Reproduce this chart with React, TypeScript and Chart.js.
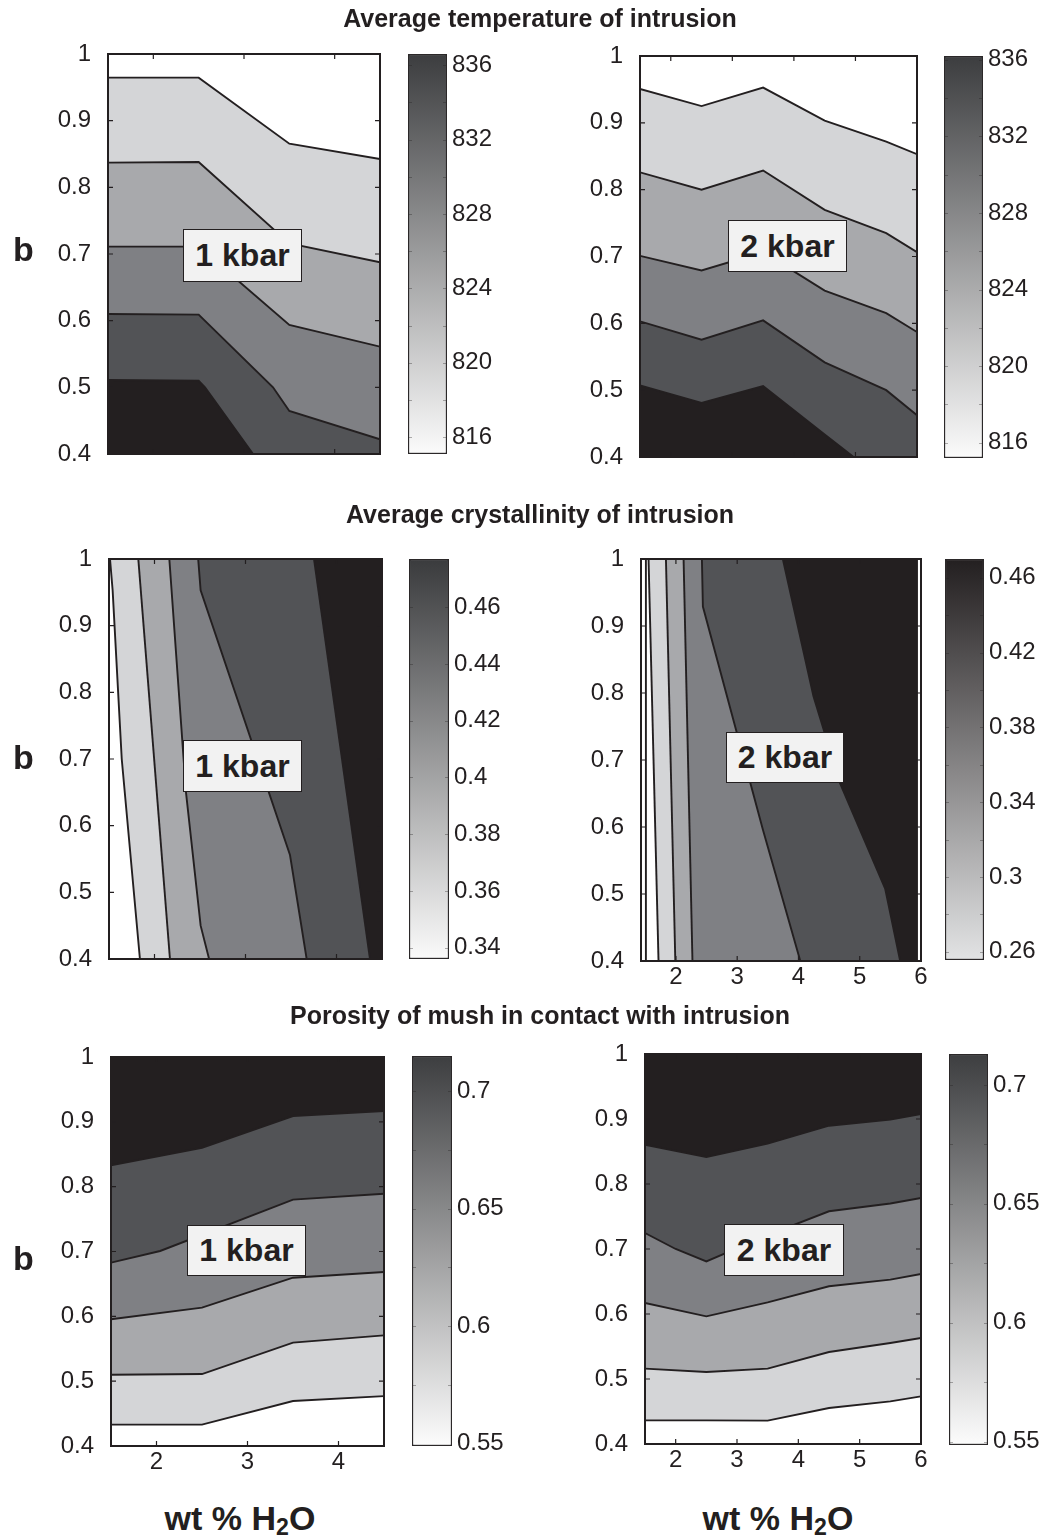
import React, { useEffect, useRef } from 'react';
import { Chart, registerables } from 'chart.js';

Chart.register(...registerables);

const INK = '#231f20';
const FONT = "'Liberation Sans', Arial, Helvetica, sans-serif";
Chart.defaults.font.family = FONT;
Chart.defaults.color = INK;

// ---------------- data ----------------
const B_MIN = 0.4;
const B_MAX = 1.0;
const bTicks = [0.4, 0.5, 0.6, 0.7, 0.8, 0.9, 1];
const waterTicks1kbar = [2, 3, 4];
const waterTicks2kbar = [2, 3, 4, 5, 6];

// contour lines as [wt% H2O, b] points
// temperature, 1 kbar (bottom -> top)
const tempLines1kbar = [
  [[1.5, 0.511], [2.5, 0.51], [2.57, 0.5], [3.1, 0.4]],
  [[1.5, 0.61], [2.5, 0.609], [3.32, 0.5], [3.5, 0.4645], [4.5, 0.422]],
  [[1.5, 0.711], [2.5, 0.711], [3.5, 0.5935], [4.5, 0.561]],
  [[1.5, 0.837], [2.5, 0.838], [3.5, 0.716], [4.5, 0.6875]],
  [[1.5, 0.9645], [2.5, 0.9645], [3.5, 0.8655], [4.5, 0.8425]],
];
// temperature, 2 kbar (bottom -> top)
const tempLines2kbar = [
  [[1.5, 0.507], [2.5, 0.481], [3.5, 0.506], [4.5, 0.4335], [4.97, 0.4]],
  [[1.5, 0.603], [2.5, 0.5755], [3.5, 0.6044], [4.5, 0.5416], [5.5, 0.5], [6, 0.4624]],
  [[1.5, 0.701], [2.5, 0.679], [3.5, 0.7065], [4.5, 0.649], [5.5, 0.6153], [6, 0.587]],
  [[1.5, 0.826], [2.5, 0.8], [3.5, 0.8286], [4.5, 0.7698], [5.5, 0.735], [6, 0.7065]],
  [[1.5, 0.9507], [2.5, 0.925], [3.5, 0.9527], [4.5, 0.9033], [5.5, 0.872], [6, 0.853]],
];
// crystallinity, 1 kbar (left -> right, each top -> bottom)
const crystLines1kbar = [
  [[1.511, 1], [1.54, 0.953], [1.64, 0.7], [1.84, 0.4]],
  [[1.822, 1], [2.17, 0.4]],
  [[2.163, 1], [2.346, 0.65], [2.507, 0.45], [2.6, 0.4]],
  [[2.48, 1], [2.507, 0.953], [3.489, 0.556], [3.672, 0.4]],
  [[3.753, 1], [4.368, 0.4]],
];
// crystallinity, 2 kbar (left -> right, each top -> bottom)
const crystLines2kbar = [
  [[1.51, 1], [1.51, 0.4]],
  [[1.553, 1], [1.716, 0.4]],
  [[1.837, 1], [1.99, 0.4]],
  [[2.125, 1], [2.27, 0.4]],
  [[2.424, 1], [2.44, 0.929], [3.42, 0.596], [4.03, 0.4]],
  [[3.745, 1], [4.245, 0.795], [4.68, 0.665], [5.415, 0.508], [5.66, 0.4]],
];
// porosity, 1 kbar (bottom -> top)
const poroLines1kbar = [
  [[1.5, 0.433], [2.5, 0.433], [3.5, 0.4694], [4.5, 0.477]],
  [[1.5, 0.51], [2.5, 0.511], [3.5, 0.5594], [4.5, 0.5707]],
  [[1.5, 0.5954], [2.5, 0.6134], [3.5, 0.6596], [4.5, 0.6684]],
  [[1.5, 0.6828], [2.04, 0.7008], [3.5, 0.78], [4.5, 0.789]],
  [[1.5, 0.833], [2.5, 0.86], [3.5, 0.909], [4.5, 0.9167]],
];
// porosity, 2 kbar (bottom -> top)
const poroLines2kbar = [
  [[1.5, 0.4364], [2.5, 0.4364], [3.5, 0.4359], [4.5, 0.4554], [5.5, 0.4656], [6, 0.4733]],
  [[1.5, 0.5159], [2.5, 0.5108], [3.5, 0.5159], [4.5, 0.5415], [5.5, 0.5554], [6, 0.563]],
  [[1.5, 0.6169], [2.5, 0.5964], [3.5, 0.6179], [4.5, 0.6426], [5.5, 0.6528], [6, 0.6615]],
  [[1.5, 0.7246], [2.0, 0.7], [2.5, 0.681], [3.5, 0.7215], [4.5, 0.758], [5.5, 0.77], [6, 0.7785]],
  [[1.5, 0.8605], [2.5, 0.8415], [3.5, 0.862], [4.5, 0.8897], [5.5, 0.899], [6, 0.9077]],
];

// colorbar tick labels and marks
const tempLabels = [816, 820, 824, 828, 832, 836];
const tempMarks = [816, 818, 820, 822, 824, 826, 828, 830, 832, 834, 836];
const crystLabels1kbar = [0.34, 0.36, 0.38, 0.4, 0.42, 0.44, 0.46];
const crystLabels2kbar = [0.26, 0.3, 0.34, 0.38, 0.42, 0.46];
const crystMarks2kbar = [0.26, 0.28, 0.3, 0.32, 0.34, 0.36, 0.38, 0.4, 0.42, 0.44, 0.46];
const poroLabels = [0.55, 0.6, 0.65, 0.7];
const poroMarks = [0.55, 0.575, 0.6, 0.625, 0.65, 0.675, 0.7];

// ---------------- styles ----------------
const G0 = '#231f20';
const G1 = '#525356';
const G2 = '#7f8084';
const G3 = '#a8a9ac';
const G4 = '#d4d5d7';
const G5 = '#ffffff';

const TICK_FONT = 24;
const PAD_L = 100;
const PAD_R = 20;
const PAD_T = 36;
const PAD_B = 50;

type Spec = {
  box: number[];
  xMin: number;
  xMax: number;
  dataXMax: number;
  xTicks: number[];
  showX: boolean;
  lines: number[][][];
  shades: string[];
  bgShade: string;
  mode: 'down' | 'left';
};

const panels: Spec[] = [
  { box: [108, 54, 380, 454], xMin: 1.5, xMax: 4.5, dataXMax: 4.5, xTicks: waterTicks1kbar, showX: false,
    lines: tempLines1kbar, shades: [G0, G1, G2, G3, G4], bgShade: G5, mode: 'down' },
  { box: [640, 56, 917, 457], xMin: 1.5, xMax: 6, dataXMax: 6, xTicks: waterTicks2kbar, showX: false,
    lines: tempLines2kbar, shades: [G0, G1, G2, G3, G4], bgShade: G5, mode: 'down' },
  { box: [109, 559, 382, 959], xMin: 1.5, xMax: 4.5, dataXMax: 4.5, xTicks: waterTicks1kbar, showX: false,
    lines: crystLines1kbar, shades: [G5, G4, G3, G2, G1], bgShade: G0, mode: 'left' },
  { box: [641, 559, 921, 961], xMin: 1.43, xMax: 6, dataXMax: 5.95, xTicks: waterTicks2kbar, showX: true,
    lines: crystLines2kbar, shades: [G5, G5, G4, G3, G2, G1], bgShade: G0, mode: 'left' },
  { box: [111, 1057, 384, 1446], xMin: 1.5, xMax: 4.5, dataXMax: 4.5, xTicks: waterTicks1kbar, showX: true,
    lines: poroLines1kbar, shades: [G5, G4, G3, G2, G1], bgShade: G0, mode: 'down' },
  { box: [645, 1054, 921, 1444], xMin: 1.5, xMax: 6, dataXMax: 6, xTicks: waterTicks2kbar, showX: true,
    lines: poroLines2kbar, shades: [G5, G4, G3, G2, G1], bgShade: G0, mode: 'down' },
];

type CbSpec = { box: number[]; min: number; max: number; labels: number[]; marks: number[]; top: string; bottom: string };

const colorbars: CbSpec[] = [
  { box: [408, 54, 447, 454], min: 815.1, max: 836.6, labels: tempLabels, marks: tempMarks, top: '#3c3d3f', bottom: '#fbfbfb' },
  { box: [944, 56, 983, 458], min: 815.2, max: 836.2, labels: tempLabels, marks: tempMarks, top: '#3c3d3f', bottom: '#fbfbfb' },
  { box: [409, 559, 449, 959], min: 0.336, max: 0.477, labels: crystLabels1kbar, marks: crystLabels1kbar, top: '#3a3b3d', bottom: '#fafafa' },
  { box: [945, 559, 984, 960], min: 0.2556, max: 0.47, labels: crystLabels2kbar, marks: crystMarks2kbar, top: '#231f20', bottom: '#e2e3e4' },
  { box: [412, 1056, 452, 1446], min: 0.549, max: 0.715, labels: poroLabels, marks: poroMarks, top: '#3d3e40', bottom: '#fcfcfc' },
  { box: [949, 1054, 988, 1445], min: 0.5486, max: 0.713, labels: poroLabels, marks: poroMarks, top: '#3d3e40', bottom: '#fcfcfc' },
];

const kbarBoxes = [
  { text: '1 kbar', l: 183, t: 229, w: 119, h: 53 },
  { text: '2 kbar', l: 728, t: 220, w: 119, h: 52 },
  { text: '1 kbar', l: 183, t: 740, w: 119, h: 52 },
  { text: '2 kbar', l: 726, t: 732, w: 118, h: 51 },
  { text: '1 kbar', l: 187, t: 1225, w: 119, h: 51 },
  { text: '2 kbar', l: 724, t: 1224, w: 120, h: 52 },
];

const titles = [
  { text: 'Average temperature of intrusion', baseline: 27 },
  { text: 'Average crystallinity of intrusion', baseline: 523 },
  { text: 'Porosity of mush in contact with intrusion', baseline: 1024 },
];

const bLabels = [261, 769, 1270];

// ---------------- helpers ----------------
const toXY = (pts: number[][]) => pts.map(([x, y]) => ({ x, y }));

function regionPolygons(spec: Spec) {
  const polys = spec.lines.map((ln, i) => {
    const first = ln[0];
    const last = ln[ln.length - 1];
    const pts =
      spec.mode === 'down'
        ? [...ln, [last[0], B_MIN], [first[0], B_MIN]]
        : [...ln, [spec.xMin, last[1]], [spec.xMin, first[1]]];
    return { pts, color: spec.shades[i] };
  });
  polys.push({
    pts: [[spec.xMin, B_MIN], [spec.dataXMax, B_MIN], [spec.dataXMax, B_MAX], [spec.xMin, B_MAX]],
    color: spec.bgShade,
  });
  return polys;
}

function framePlugin(xTicks: number[], yTicks: number[]) {
  return {
    id: 'frame',
    afterDraw(chart: any) {
      const { ctx, chartArea: a, scales } = chart;
      ctx.save();
      ctx.strokeStyle = INK;
      ctx.lineWidth = 1.2;
      ctx.beginPath();
      const L = 5;
      for (const v of xTicks) {
        const px = scales.x.getPixelForValue(v);
        if (px <= a.left + 1 || px >= a.right - 1) continue;
        ctx.moveTo(px, a.bottom);
        ctx.lineTo(px, a.bottom - L);
        ctx.moveTo(px, a.top);
        ctx.lineTo(px, a.top + L);
      }
      for (const v of yTicks) {
        const py = scales.y.getPixelForValue(v);
        if (py <= a.top + 1 || py >= a.bottom - 1) continue;
        ctx.moveTo(a.left, py);
        ctx.lineTo(a.left + L, py);
        ctx.moveTo(a.right, py);
        ctx.lineTo(a.right - L, py);
      }
      ctx.stroke();
      ctx.lineWidth = 2;
      ctx.strokeRect(a.left, a.top, a.right - a.left, a.bottom - a.top);
      ctx.restore();
    },
  };
}

function ContourPanel({ spec }: { spec: Spec }) {
  const ref = useRef<HTMLCanvasElement>(null);
  const [l, t, r, b] = spec.box;
  const W = r - l + PAD_L + PAD_R;
  const H = b - t + PAD_T + PAD_B;
  useEffect(() => {
    if (!ref.current) return;
    const polys = regionPolygons(spec);
    const datasets: any[] = [
      ...spec.lines.map((ln) => ({
        data: toXY(ln),
        borderColor: INK,
        borderWidth: 1.9,
        pointRadius: 0,
        fill: false,
        tension: 0,
      })),
      ...polys.map((p) => ({
        data: toXY(p.pts),
        backgroundColor: p.color,
        borderColor: 'rgba(0,0,0,0)',
        borderWidth: 1,
        pointRadius: 0,
        fill: 'shape',
        tension: 0,
      })),
    ];
    const chart = new Chart(ref.current, {
      type: 'line',
      data: { datasets },
      options: {
        responsive: false,
        animation: false,
        devicePixelRatio: 1,
        events: [],
        layout: { padding: { top: PAD_T, right: PAD_R, left: 0, bottom: 0 } },
        plugins: { legend: { display: false }, tooltip: { enabled: false } },
        scales: {
          x: {
            type: 'linear',
            min: spec.xMin,
            max: spec.xMax,
            grid: { display: false, drawTicks: false },
            border: { display: false },
            afterBuildTicks: (s: any) => {
              s.ticks = spec.xTicks.map((v) => ({ value: v }));
            },
            afterFit: (s: any) => {
              s.height = PAD_B;
            },
            ticks: {
              display: spec.showX,
              padding: 2,
              autoSkip: false,
              maxRotation: 0,
              color: INK,
              font: { size: TICK_FONT, family: FONT },
              callback: (v: any) => String(v),
            },
          },
          y: {
            type: 'linear',
            min: B_MIN,
            max: B_MAX,
            grid: { display: false, drawTicks: false },
            border: { display: false },
            afterBuildTicks: (s: any) => {
              s.ticks = bTicks.map((v) => ({ value: v }));
            },
            afterFit: (s: any) => {
              s.width = PAD_L;
            },
            ticks: {
              padding: 17,
              autoSkip: false,
              color: INK,
              font: { size: TICK_FONT, family: FONT },
              callback: (v: any) => String(v),
            },
          },
        },
      } as any,
      plugins: [framePlugin(spec.xTicks, bTicks)],
    });
    return () => chart.destroy();
  }, []);
  return (
    <canvas
      ref={ref}
      width={W}
      height={H}
      style={{ position: 'absolute', left: l - PAD_L, top: t - PAD_T, width: W, height: H }}
    />
  );
}

const CB_PAD_T = 24;
const CB_PAD_B = 24;
const CB_AXIS_W = 80;

function Colorbar({ cb }: { cb: CbSpec }) {
  const ref = useRef<HTMLCanvasElement>(null);
  const [l, t, r, b] = cb.box;
  const W = r - l + CB_AXIS_W;
  const H = b - t + CB_PAD_T + CB_PAD_B;
  useEffect(() => {
    if (!ref.current) return;
    const marksPlugin = {
      id: 'cbmarks',
      afterDatasetsDraw(chart: any) {
        const { ctx, chartArea: a, scales } = chart;
        ctx.save();
        ctx.strokeStyle = 'rgba(35,31,32,0.35)';
        ctx.lineWidth = 1;
        ctx.beginPath();
        for (const v of cb.marks) {
          const py = Math.round(scales.y.getPixelForValue(v)) + 0.5;
          if (py <= a.top + 2 || py >= a.bottom - 2) continue;
          ctx.moveTo(a.left + 1, py);
          ctx.lineTo(a.left + 4, py);
          ctx.moveTo(a.right - 1, py);
          ctx.lineTo(a.right - 4, py);
        }
        ctx.stroke();
        ctx.restore();
      },
    };
    const chart = new Chart(ref.current, {
      type: 'bar',
      data: {
        labels: ['c'],
        datasets: [
          {
            data: [[cb.min, cb.max]] as any,
            backgroundColor: (c: any) => {
              const ch = c.chart;
              const a = ch.chartArea;
              if (!a) return cb.bottom;
              const g = ch.ctx.createLinearGradient(0, a.bottom, 0, a.top);
              g.addColorStop(0, cb.bottom);
              g.addColorStop(1, cb.top);
              return g;
            },
            borderColor: '#2b2829',
            borderWidth: 1.5,
            borderSkipped: false,
            barPercentage: 1,
            categoryPercentage: 1,
          },
        ],
      },
      options: {
        responsive: false,
        animation: false,
        devicePixelRatio: 1,
        events: [],
        layout: { padding: { top: CB_PAD_T, bottom: CB_PAD_B, left: 0, right: 0 } },
        plugins: { legend: { display: false }, tooltip: { enabled: false } },
        scales: {
          x: { display: false },
          y: {
            position: 'right',
            min: cb.min,
            max: cb.max,
            grid: { display: false, drawTicks: false },
            border: { display: false },
            afterBuildTicks: (s: any) => {
              s.ticks = cb.labels.map((v) => ({ value: v }));
            },
            afterFit: (s: any) => {
              s.width = CB_AXIS_W;
            },
            ticks: {
              padding: 5,
              autoSkip: false,
              color: INK,
              font: { size: TICK_FONT, family: FONT },
              callback: (v: any) => String(v),
            },
          },
        },
      } as any,
      plugins: [marksPlugin],
    });
    return () => chart.destroy();
  }, []);
  return (
    <canvas
      ref={ref}
      width={W}
      height={H}
      style={{ position: 'absolute', left: l, top: t - CB_PAD_T, width: W, height: H }}
    />
  );
}

function TextAt({ x, baseline, size, align, children }: any) {
  const top = baseline - 0.8465 * size;
  const style: any = {
    position: 'absolute',
    top,
    fontSize: size,
    lineHeight: `${size}px`,
    fontWeight: 'bold',
    fontFamily: FONT,
    color: INK,
    whiteSpace: 'nowrap',
  };
  if (align === 'center') {
    style.left = x - 400;
    style.width = 800;
    style.textAlign = 'center';
  } else {
    style.left = x;
  }
  return <div style={style}>{children}</div>;
}

export default function App() {
  return (
    <div
      style={{
        position: 'absolute',
        left: 0,
        top: 0,
        width: 1044,
        height: 1537,
        overflow: 'hidden',
        background: '#ffffff',
      }}
    >
      {panels.map((p, i) => (
        <ContourPanel key={'p' + i} spec={p} />
      ))}
      {colorbars.map((c, i) => (
        <Colorbar key={'c' + i} cb={c} />
      ))}
      {titles.map((tt, i) => (
        <TextAt key={'t' + i} x={540} baseline={tt.baseline} size={25} align="center">
          {tt.text}
        </TextAt>
      ))}
      {bLabels.map((bl, i) => (
        <TextAt key={'b' + i} x={13} baseline={bl} size={34}>
          b
        </TextAt>
      ))}
      {kbarBoxes.map((k, i) => (
        <div
          key={'k' + i}
          style={{
            position: 'absolute',
            left: k.l,
            top: k.t,
            width: k.w,
            height: k.h,
            boxSizing: 'border-box',
            border: `1.5px solid ${INK}`,
            background: '#f2f2f2',
            display: 'flex',
            alignItems: 'center',
            justifyContent: 'center',
            fontFamily: FONT,
            fontWeight: 'bold',
            fontSize: 32,
            color: INK,
            whiteSpace: 'nowrap',
          }}
        >
          {k.text}
        </div>
      ))}
      {[240, 778].map((cx, i) => (
        <TextAt key={'x' + i} x={cx} baseline={1530} size={34} align="center">
          wt % H
          <span style={{ fontSize: '0.68em', position: 'relative', top: '0.2em' }}>2</span>O
        </TextAt>
      ))}
    </div>
  );
}
